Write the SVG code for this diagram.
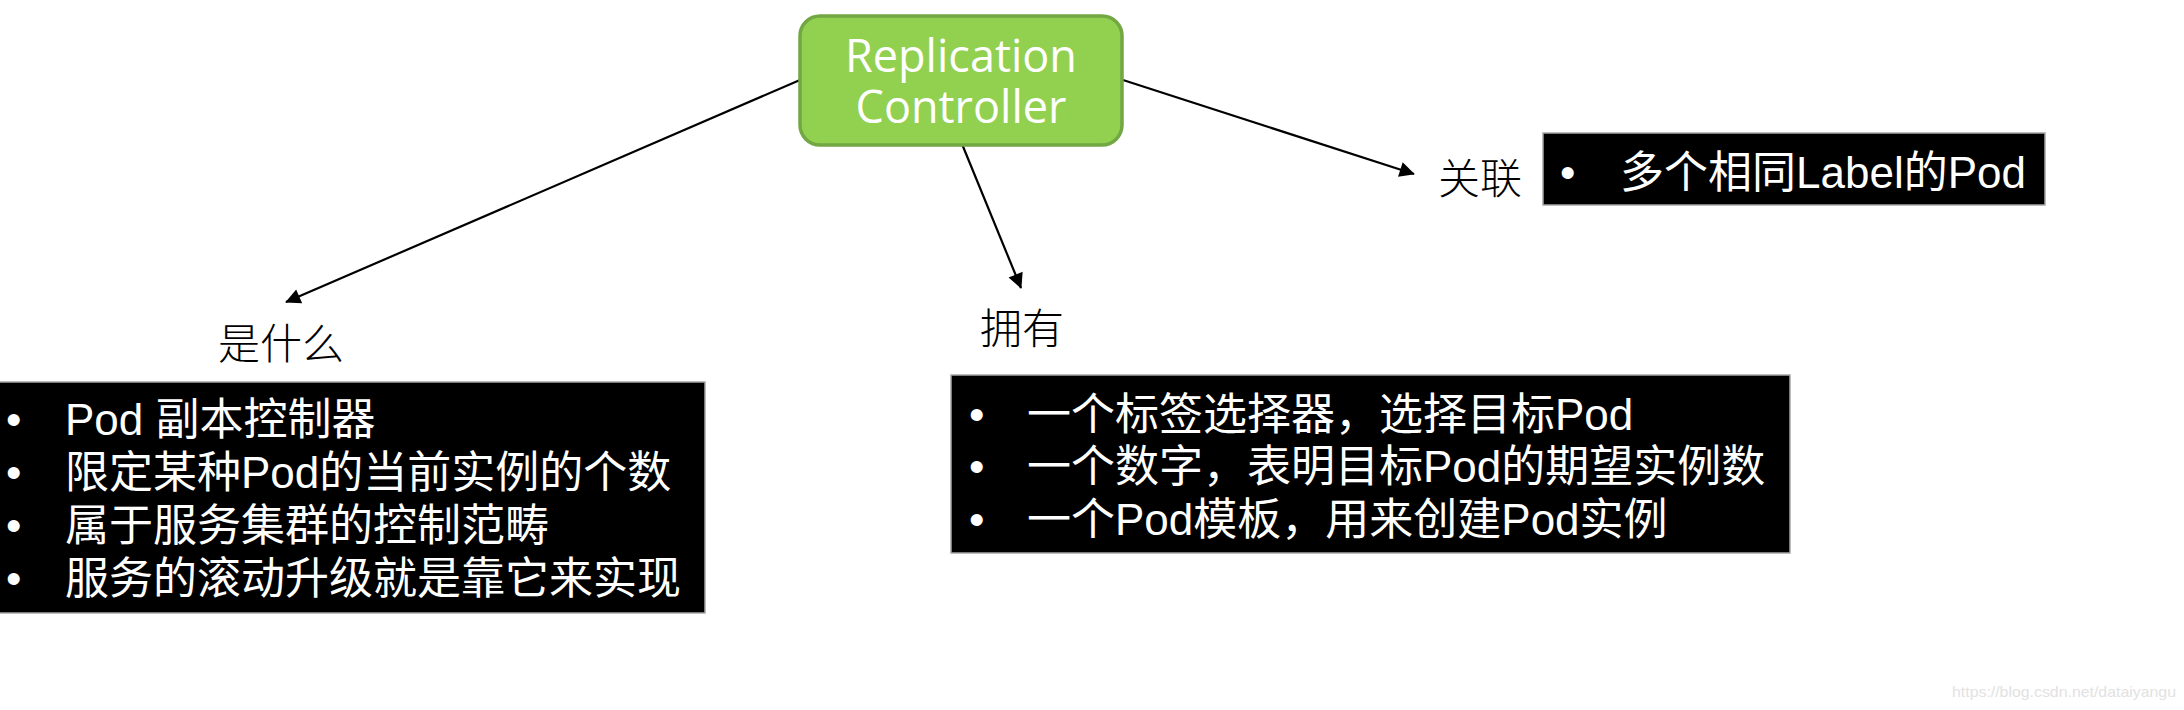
<svg xmlns="http://www.w3.org/2000/svg" width="2184" height="710" viewBox="0 0 2184 710">
<style>
.bg{fill:#ffffff}
.rc{fill:#92D050;stroke:#72A743;stroke-width:3.5}
.rct{font-family:"Open Sans","Noto Sans",sans-serif;font-size:45px;fill:#ffffff;text-anchor:middle}
.box{fill:#000000;stroke:#a6a6a6;stroke-width:1.5}
.bt{font-family:"Liberation Sans","Noto Sans CJK SC",sans-serif;font-size:44px;fill:#ffffff}
.lbl{font-family:"Liberation Serif","Noto Sans CJK SC",serif;font-size:42px;font-weight:300;fill:#000000}
.conn{stroke:#000000;stroke-width:2.2;fill:none;marker-end:url(#arr)}
.wm{font-family:"Liberation Sans",sans-serif;font-size:15px;fill:#e2e2e2}
</style>
<defs>
<marker id="arr" viewBox="0 0 10 10" refX="9" refY="5" markerWidth="8" markerHeight="8" markerUnits="userSpaceOnUse" orient="auto" overflow="visible">
<path d="M0,0 L10,5 L0,10 z" fill="#000000" transform="scale(1.9) translate(-4.7,-2.4)"/>
</marker>
</defs>
<rect class="bg" x="0" y="0" width="2184" height="710"/>
<g id="connectors">
<line class="conn" x1="800" y1="80" x2="286" y2="302"/>
<line class="conn" x1="962" y1="144" x2="1021" y2="288"/>
<line class="conn" x1="1123" y1="80" x2="1414" y2="174"/>
</g>
<g id="rc">
<rect class="rc" x="800" y="16" width="322" height="129" rx="20" ry="20"/>
<text class="rct"><tspan x="961" y="72">Replication</tspan><tspan x="961" y="123">Controller</tspan></text>
</g>
<g id="label-what">
<text class="lbl" x="218" y="359">是什么</text>
</g>
<g id="label-have">
<text class="lbl" x="980" y="344">拥有</text>
</g>
<g id="label-assoc">
<text class="lbl" x="1438" y="194">关联</text>
</g>
<g id="box-what">
<rect class="box" x="-2" y="382" width="707" height="231"/>
<text class="bt" x="6" y="435">•</text>
<text class="bt" x="65" y="435">Pod 副本控制器</text>
<text class="bt" x="6" y="488">•</text>
<text class="bt" x="65" y="488">限定某种Pod的当前实例的个数</text>
<text class="bt" x="6" y="541">•</text>
<text class="bt" x="65" y="541">属于服务集群的控制范畴</text>
<text class="bt" x="6" y="594">•</text>
<text class="bt" x="65" y="594">服务的滚动升级就是靠它来实现</text>
</g>
<g id="box-have">
<rect class="box" x="951" y="375" width="839" height="178"/>
<text class="bt" x="969" y="430">•</text>
<text class="bt" x="1027" y="430">一个标签选择器，选择目标Pod</text>
<text class="bt" x="969" y="482">•</text>
<text class="bt" x="1027" y="482">一个数字，表明目标Pod的期望实例数</text>
<text class="bt" x="969" y="535">•</text>
<text class="bt" x="1027" y="535">一个Pod模板，用来创建Pod实例</text>
</g>
<g id="box-assoc">
<rect class="box" x="1543" y="133" width="502" height="72"/>
<text class="bt" x="1560" y="188">•</text>
<text class="bt" x="1620" y="188">多个相同Label的Pod</text>
</g>
<text class="wm" x="1952" y="697" textLength="224" lengthAdjust="spacingAndGlyphs">https://blog.csdn.net/dataiyangu</text>
</svg>
